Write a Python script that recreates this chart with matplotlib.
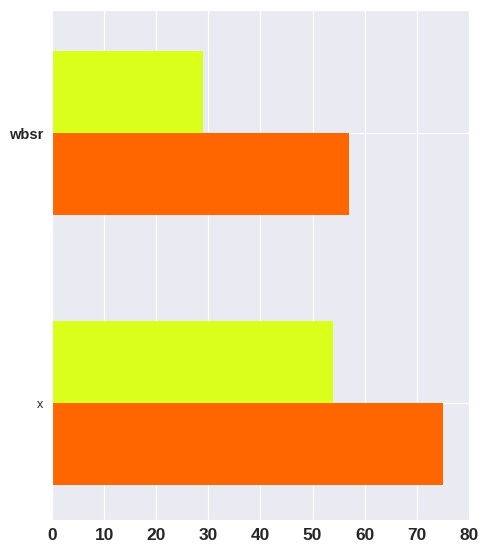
import numpy as np
import matplotlib
matplotlib.use("Agg")
import matplotlib.pyplot as plt
import seaborn as sns

categories = ["x", "wbsr"]
series_top = [54, 29]      # yellow-green
series_bottom = [75, 57]   # orange

sns.set_style("darkgrid")
plt.rcParams["font.family"] = ["Liberation Sans", "DejaVu Sans"]

fig = plt.figure(figsize=(4.9, 5.6), dpi=100)
ax = fig.add_axes([0.106, 0.0714, 0.851, 0.9107])

y = np.arange(len(categories))
h = 0.305
ax.barh(y + h / 2, series_top, height=h, color="#d9ff1a", linewidth=0, zorder=2)
ax.barh(y - h / 2, series_bottom, height=h, color="#ff6600", linewidth=0, zorder=2)

ax.set_xlim(0, 80)
ax.set_ylim(-0.433, 1.456)
ax.set_xticks(np.arange(0, 81, 10))
ax.set_yticks(y)
ax.set_yticklabels(categories)
for lab in ax.get_xticklabels():
    lab.set_fontweight("bold")
    lab.set_fontsize(12.5)
ylabs = ax.get_yticklabels()
ylabs[0].set_fontsize(9)
ylabs[1].set_fontsize(10.5)
ylabs[1].set_fontweight("bold")
ax.tick_params(axis="both", length=0, pad=6)

fig.savefig("out.png", dpi=100)
